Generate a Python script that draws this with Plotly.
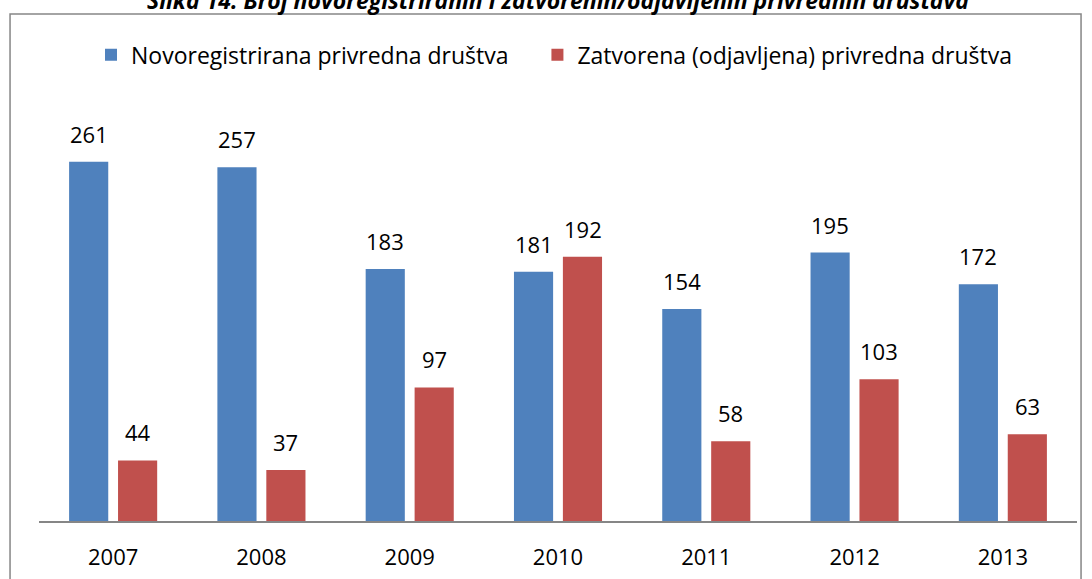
import plotly.graph_objects as go

years = ["2007", "2008", "2009", "2010", "2011", "2012", "2013"]
registered = [261, 257, 183, 181, 154, 195, 172]
closed = [44, 37, 97, 192, 58, 103, 63]
series_names = ["Novoregistrirana privredna društva", "Zatvorena (odjavljena) privredna društva"]
title_text = "Slika 14. Broj novoregistriranih i zatvorenih/odjavljenih privrednih društava"

BLUE = "#4F81BD"
RED = "#C0504D"
FONT = "Open Sans"

fig = go.Figure()
fig.add_trace(go.Bar(x=years, y=registered, name=series_names[0] + "\u00a0" * 4,
                     marker_color=BLUE, marker_line_width=0))
fig.add_trace(go.Bar(x=years, y=closed, name=series_names[1], marker_color=RED,
                     marker_line_width=0))

annotations = []
for vals, shift in ((registered, -24.5), (closed, 24.5)):
    for i, v in enumerate(vals):
        annotations.append(dict(x=i, y=v, xref="x", yref="y", text=str(v), showarrow=False,
                                xshift=shift, yshift=28, yanchor="middle", xanchor="center",
                                font=dict(family=FONT, size=22, color="#000000")))
annotations.append(dict(x=0.5, y=1.2615, xref="paper", yref="paper", text="<b><i>" + title_text + "</i></b>",
                        showarrow=False, xanchor="center", yanchor="middle",
                        font=dict(family=FONT, size=23, color="#000000")))

fig.update_layout(
    width=1092, height=579,
    margin=dict(l=39, r=15, t=108, b=58, autoexpand=False),
    paper_bgcolor="white", plot_bgcolor="white",
    barmode="group", bargap=0.34, bargroupgap=0.2,
    font=dict(family=FONT, size=21, color="#000000"),
    legend=dict(orientation="h", x=0.0501, xanchor="left", y=1.129, yanchor="middle",
                font=dict(family=FONT, size=23, color="#000000"), bgcolor="rgba(0,0,0,0)"),
    annotations=annotations,
    shapes=[dict(type="rect", xref="paper", yref="paper", x0=-0.0279, x1=1.0039,
                 y0=-0.167, y1=1.2276, line=dict(color="#868686", width=1.5),
                 fillcolor="rgba(0,0,0,0)", layer="below")],
)
fig.update_xaxes(type="category", range=[-0.5, len(years) - 0.5], showline=True,
                 automargin=False, linecolor="#868686", linewidth=1.5, ticks="",
                 ticklabelstandoff=16, tickfont=dict(family=FONT, size=22, color="#000000"),
                 showgrid=False, zeroline=False)
fig.update_yaxes(range=[0, 300], visible=False, showgrid=False, zeroline=False, automargin=False)

fig.write_html("out.html", config={"displayModeBar": False},
               post_script="document.body.style.margin='0px';")
